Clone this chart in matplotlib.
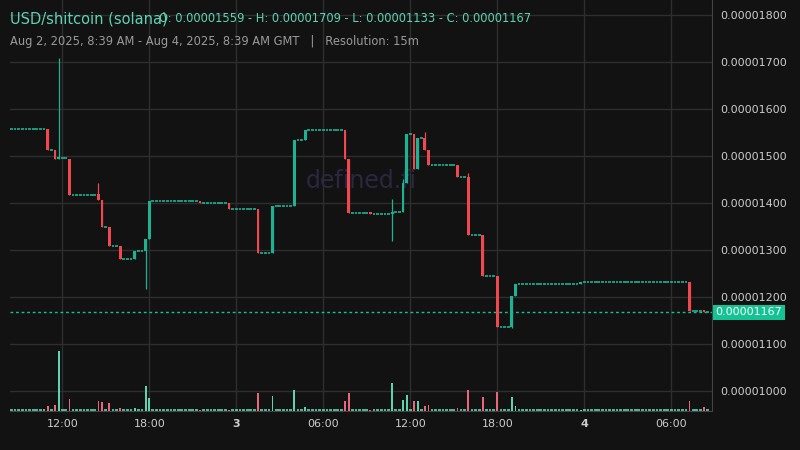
import matplotlib.pyplot as plt

# price in units of 1e-6, time in hours since Aug 2 00:00 GMT
times = [11.0, 11.5, 11.75, 12.5, 14.5, 14.75, 15.25, 16.0, 17.0, 17.75, 18.0,
         21.5, 23.5, 25.5, 26.5, 28.0, 28.75, 31.5, 31.75, 33.25, 34.75, 35.5,
         35.75, 36.25, 36.5, 37.0, 37.25, 39.25, 40.0, 41.0, 42.0, 43.0, 43.25,
         47.75, 55.25, 56.25]
opens = [15.57, 15.13, 14.94, 14.94, 14.19, 14.06, 13.49, 13.09, 12.81, 12.98, 13.23,
         14.04, 14.00, 13.88, 12.94, 13.94, 15.34, 15.55, 14.94, 13.79, 13.77, 13.80,
         14.43, 15.47, 14.72, 15.38, 15.13, 14.81, 14.55, 13.32, 12.45, 11.36, 12.02,
         12.27, 12.32, 11.70]
closes = [15.13, 14.94, 14.95, 14.17, 14.06, 13.49, 13.09, 12.81, 12.98, 13.23, 14.04,
          14.00, 13.88, 12.94, 13.94, 15.34, 15.55, 14.94, 13.79, 13.77, 13.80, 14.43,
          15.47, 14.72, 15.38, 15.13, 14.81, 14.55, 13.32, 12.45, 11.36, 12.02, 12.27,
          12.32, 11.70, 11.67]
highs = [15.57, 15.13, 17.09, 14.94, 14.43, 14.06, 13.49, 13.09, 12.98, 13.23, 14.04,
         14.04, 14.00, 13.88, 13.94, 15.34, 15.55, 15.55, 14.94, 13.79, 14.09, 14.51,
         15.47, 15.47, 15.38, 15.51, 15.13, 14.81, 14.64, 13.32, 12.45, 12.02, 12.27,
         12.32, 12.32, 11.70]
lows = [15.13, 14.94, 14.94, 14.17, 14.06, 13.49, 13.09, 12.81, 12.81, 12.17, 13.23,
        14.00, 13.88, 12.94, 12.94, 13.94, 15.34, 14.94, 13.79, 13.77, 13.18, 13.80,
        14.43, 14.72, 14.72, 15.13, 14.81, 14.55, 13.32, 12.45, 11.36, 11.33, 12.02,
        12.27, 11.70, 11.67]
volumes = [4.7, 5.7, 60, 11.7, 9.7, 8.7, 7.7, 2.7, 2.7, 25, 12.7,
           1, 1, 17.7, 14.7, 20.7, 3.7, 9.7, 17.7, 1, 27.7, 10.7,
           15.7, 9.7, 9.7, 4.7, 5.7, 2.7, 20.7, 13.7, 18.7, 13.7, 4.7,
           1, 9.7, 3.7]
start_price = 15.57
last_price = 11.67
price_ticks = [10, 11, 12, 13, 14, 15, 16, 17, 18]
x_ticks = [12, 18, 24, 30, 36, 42, 48, 54]
x_labels = ['12:00', '18:00', '3', '06:00', '12:00', '18:00', '4', '06:00']

BG = '#121212'
GREEN = '#1bb394'
RED = '#f0484f'
VGREEN = '#5ed3b0'
VRED = '#e8677a'

fig = plt.figure(figsize=(8, 4.5), dpi=100, facecolor=BG)
ax = fig.add_axes([10/800, 39/450, 702/800, 411/450])
ax.set_facecolor(BG)
axv = ax.twinx()
axv.set_ylim(0, 411)
axv.axis('off')

w = 0.19
lookup = {t: i for i, t in enumerate(times)}
prev = start_price
q = 8.5
while q <= 56.5:
    if q in lookup:
        i = lookup[q]
        up = closes[i] >= opens[i]
        c = GREEN if up else RED
        ax.vlines(q, lows[i], highs[i], color=c, lw=0.9, zorder=3)
        ax.bar(q, max(abs(closes[i]-opens[i]), 0.04), bottom=min(opens[i], closes[i]),
               width=w, color=c, zorder=3)
        axv.bar(q, volumes[i], width=0.13, color=VGREEN if up else VRED, bottom=0.5)
        prev = closes[i]
    else:
        ax.hlines(prev, q - w/2, q + w/2, color=GREEN, lw=1.2, zorder=3)
        axv.hlines(1.2, q - w/2, q + w/2, color=VGREEN, lw=1.2)
    q += 0.25

ax.set_xlim(8.4, 56.8)
ax.set_ylim(9.57, 18.32)
ax.axhline(last_price, color='#14c393', lw=1, ls=(0, (2, 2)), zorder=2)
ax.set_yticks(price_ticks)
ax.set_xticks(x_ticks)
ax.grid(color='#2e2e2e', lw=1)
ax.set_axisbelow(True)
ax.yaxis.tick_right()
ax.set_yticklabels(['%.8f' % (v * 1e-6) for v in price_ticks])
ax.set_xticklabels(x_labels)
for lab in ax.get_xticklabels():
    if lab.get_text() in ('3', '4'):
        lab.set_fontweight('bold')
ax.tick_params(colors='#cccccc', labelsize=8, length=0, pad=6)
ax.tick_params(axis='y', pad=6)
for s in ['top', 'left']:
    ax.spines[s].set_visible(False)
for s in ['right', 'bottom']:
    ax.spines[s].set_color('#444444')

ax.text(1.005, (last_price - 9.57) / (18.32 - 9.57), '0.00001167', transform=ax.transAxes,
        color='white', fontsize=8, va='center', ha='left',
        bbox=dict(boxstyle='square,pad=0.25', fc='#14c393', ec='none'))
ax.text(0.5, 0.56, 'defined.fi', transform=ax.transAxes, color='#2a2740', fontsize=17,
        ha='center', va='center', zorder=1)

fig.text(10/800, 1 - 19/450, 'USD/shitcoin (solana)', color='#5ed3b3', fontsize=10.5, va='center')
fig.text(159/800, 1 - 19/450, 'O: 0.00001559 - H: 0.00001709 - L: 0.00001133 - C: 0.00001167',
         color='#5ed3b3', fontsize=8.3, va='center')
fig.text(10/800, 1 - 41/450, 'Aug 2, 2025, 8:39 AM - Aug 4, 2025, 8:39 AM GMT   |   Resolution: 15m',
         color='#9a9a9a', fontsize=8.3, va='center')

fig.savefig('out.png', dpi=100, facecolor=BG)
